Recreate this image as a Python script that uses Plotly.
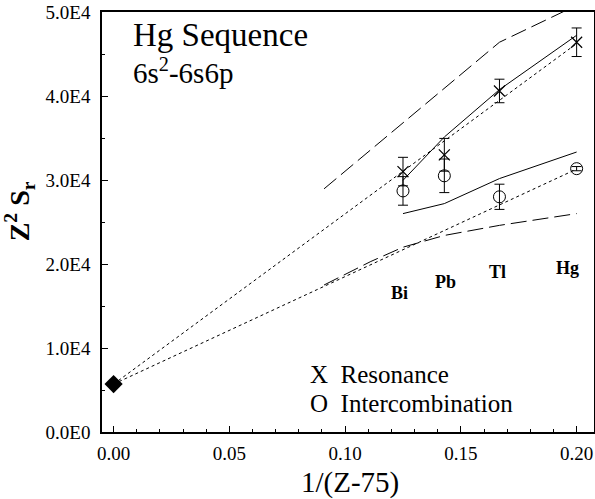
import plotly.graph_objects as go

# ---- data ----
elements = ["Bi", "Pb", "Tl", "Hg"]
x_elem = [1/8, 1/7, 1/6, 1/5]

res_y = [31000, 33000, 40600, 46400]
res_err = [1700, 1950, 1400, 1700]
int_y = [28700, 30500, 28000, 31350]
int_err = [1700, 2000, 1500, 250]

limit_x = [0.0]
limit_y = [5700]

res_fit_x = [0.0, 0.2]
res_fit_y = [5700, 46240]
int_fit_x = [0.0, 0.2]
int_fit_y = [5700, 31300]

res_theory = [29960, 35120, 40760, 47230]
int_theory = [26000, 27190, 30170, 33330]

dash_x = [1/11, 1/10, 1/9, 1/8, 1/7, 1/6, 1/5]
upper_dash = [28950, 31050, 33600, 36850, 41000, 46400, 50800]
lower_dash = [17500, 18800, 20300, 22000, 23400, 24600, 26000]

elem_label_y = [16550, 17860, 19050, 19570]
elem_label_dx = [-0.0013, 0.0005, -0.0007, -0.0039]

y_tickvals = [0, 10000, 20000, 30000, 40000, 50000]
y_ticktext = ["0.0E0", "1.0E4", "2.0E4", "3.0E4", "4.0E4", "5.0E4"]

SERIF = "Liberation Serif"

fig = go.Figure()

# long-dashed theory bounds
for ys in (upper_dash, lower_dash):
    fig.add_trace(go.Scatter(x=dash_x, y=ys, mode="lines",
                             line=dict(color="black", width=1, dash="16px,6px"),
                             showlegend=False, hoverinfo="skip"))
# dotted extrapolation lines
fig.add_trace(go.Scatter(x=res_fit_x, y=res_fit_y, mode="lines",
                         line=dict(color="black", width=1, dash="3px,3px"),
                         showlegend=False))
fig.add_trace(go.Scatter(x=int_fit_x, y=int_fit_y, mode="lines",
                         line=dict(color="black", width=1, dash="3px,3px"),
                         showlegend=False))
# solid theory lines
fig.add_trace(go.Scatter(x=x_elem, y=res_theory, mode="lines",
                         line=dict(color="black", width=1), showlegend=False))
fig.add_trace(go.Scatter(x=x_elem, y=int_theory, mode="lines",
                         line=dict(color="black", width=1), showlegend=False))
# measured points
fig.add_trace(go.Scatter(x=x_elem, y=res_y, mode="markers",
                         marker=dict(symbol="x-thin", size=11, color="black",
                                     line=dict(color="black", width=1.2)),
                         error_y=dict(type="data", array=res_err, color="black",
                                      thickness=1, width=5),
                         showlegend=False))
fig.add_trace(go.Scatter(x=x_elem, y=int_y, mode="markers",
                         marker=dict(symbol="circle-open", size=12, color="black",
                                     line=dict(color="black", width=1)),
                         error_y=dict(type="data", array=int_err, color="black",
                                      thickness=1, width=5),
                         showlegend=False))
# limit point
fig.add_trace(go.Scatter(x=limit_x, y=limit_y, mode="markers",
                         marker=dict(symbol="diamond", size=14, color="black"),
                         cliponaxis=False, showlegend=False))

annotations = []
for name, xv, yv, dx in zip(elements, x_elem, elem_label_y, elem_label_dx):
    annotations.append(dict(x=xv + dx, y=yv, xref="x", yref="y", text="<b>" + name + "</b>",
                            showarrow=False,
                            font=dict(family=SERIF, size=18, color="black")))

annotations += [
    dict(x=0.058, y=0.945, xref="paper", yref="paper", xanchor="left", yanchor="middle",
         text="Hg Sequence", showarrow=False,
         font=dict(family=SERIF, size=33, color="black")),
    dict(x=0.058, y=0.86, xref="paper", yref="paper", xanchor="left", yanchor="middle",
         text="6s<sup>2</sup>-6s6p", showarrow=False,
         font=dict(family=SERIF, size=29, color="black")),
    dict(x=0.419, y=0.136, xref="paper", yref="paper", xanchor="left", yanchor="middle",
         text="X&nbsp;&nbsp;Resonance", showarrow=False,
         font=dict(family=SERIF, size=25, color="black")),
    dict(x=0.419, y=0.068, xref="paper", yref="paper", xanchor="left", yanchor="middle",
         text="O&nbsp;&nbsp;Intercombination", showarrow=False,
         font=dict(family=SERIF, size=25, color="black")),
    dict(x=0.504, y=-0.121, xref="paper", yref="paper", xanchor="center", yanchor="middle",
         text="1/(Z-75)", showarrow=False,
         font=dict(family=SERIF, size=29, color="black")),
    dict(x=-0.167, y=0.525, xref="paper", yref="paper", xanchor="center", yanchor="middle",
         text="<b>Z<sup>2</sup> S<sub>r</sub></b>", textangle=-90, showarrow=False,
         font=dict(family=SERIF, size=28, color="black")),
]

fig.update_layout(
    width=595, height=499,
    margin=dict(l=102, r=1, t=12, b=67, autoexpand=False),
    paper_bgcolor="white", plot_bgcolor="white",
    showlegend=False,
    annotations=annotations,
    xaxis=dict(range=[-0.005, 0.2075], tick0=0, dtick=0.05, tickformat=".2f",
               showgrid=False, zeroline=False,
               showline=True, linecolor="black", linewidth=1.5, mirror=True,
               ticks="inside", ticklen=6, tickcolor="black", tickwidth=1,
               minor=dict(dtick=0.01, ticks="inside", ticklen=3, tickcolor="black"),
               tickfont=dict(family=SERIF, size=19, color="black"),
               ticklabelstandoff=3),
    yaxis=dict(range=[0, 50000], tickvals=y_tickvals, ticktext=y_ticktext,
               showgrid=False, zeroline=False,
               showline=True, linecolor="black", linewidth=1.5, mirror=True,
               ticks="inside", ticklen=6, tickcolor="black", tickwidth=1,
               minor=dict(dtick=5000, ticks="inside", ticklen=3, tickcolor="black"),
               tickfont=dict(family=SERIF, size=19, color="black"),
               ticklabelstandoff=6),
)

fig.write_html("out.html",
               config={"displayModeBar": False},
               post_script="document.body.style.margin='0';document.body.style.padding='0';")
